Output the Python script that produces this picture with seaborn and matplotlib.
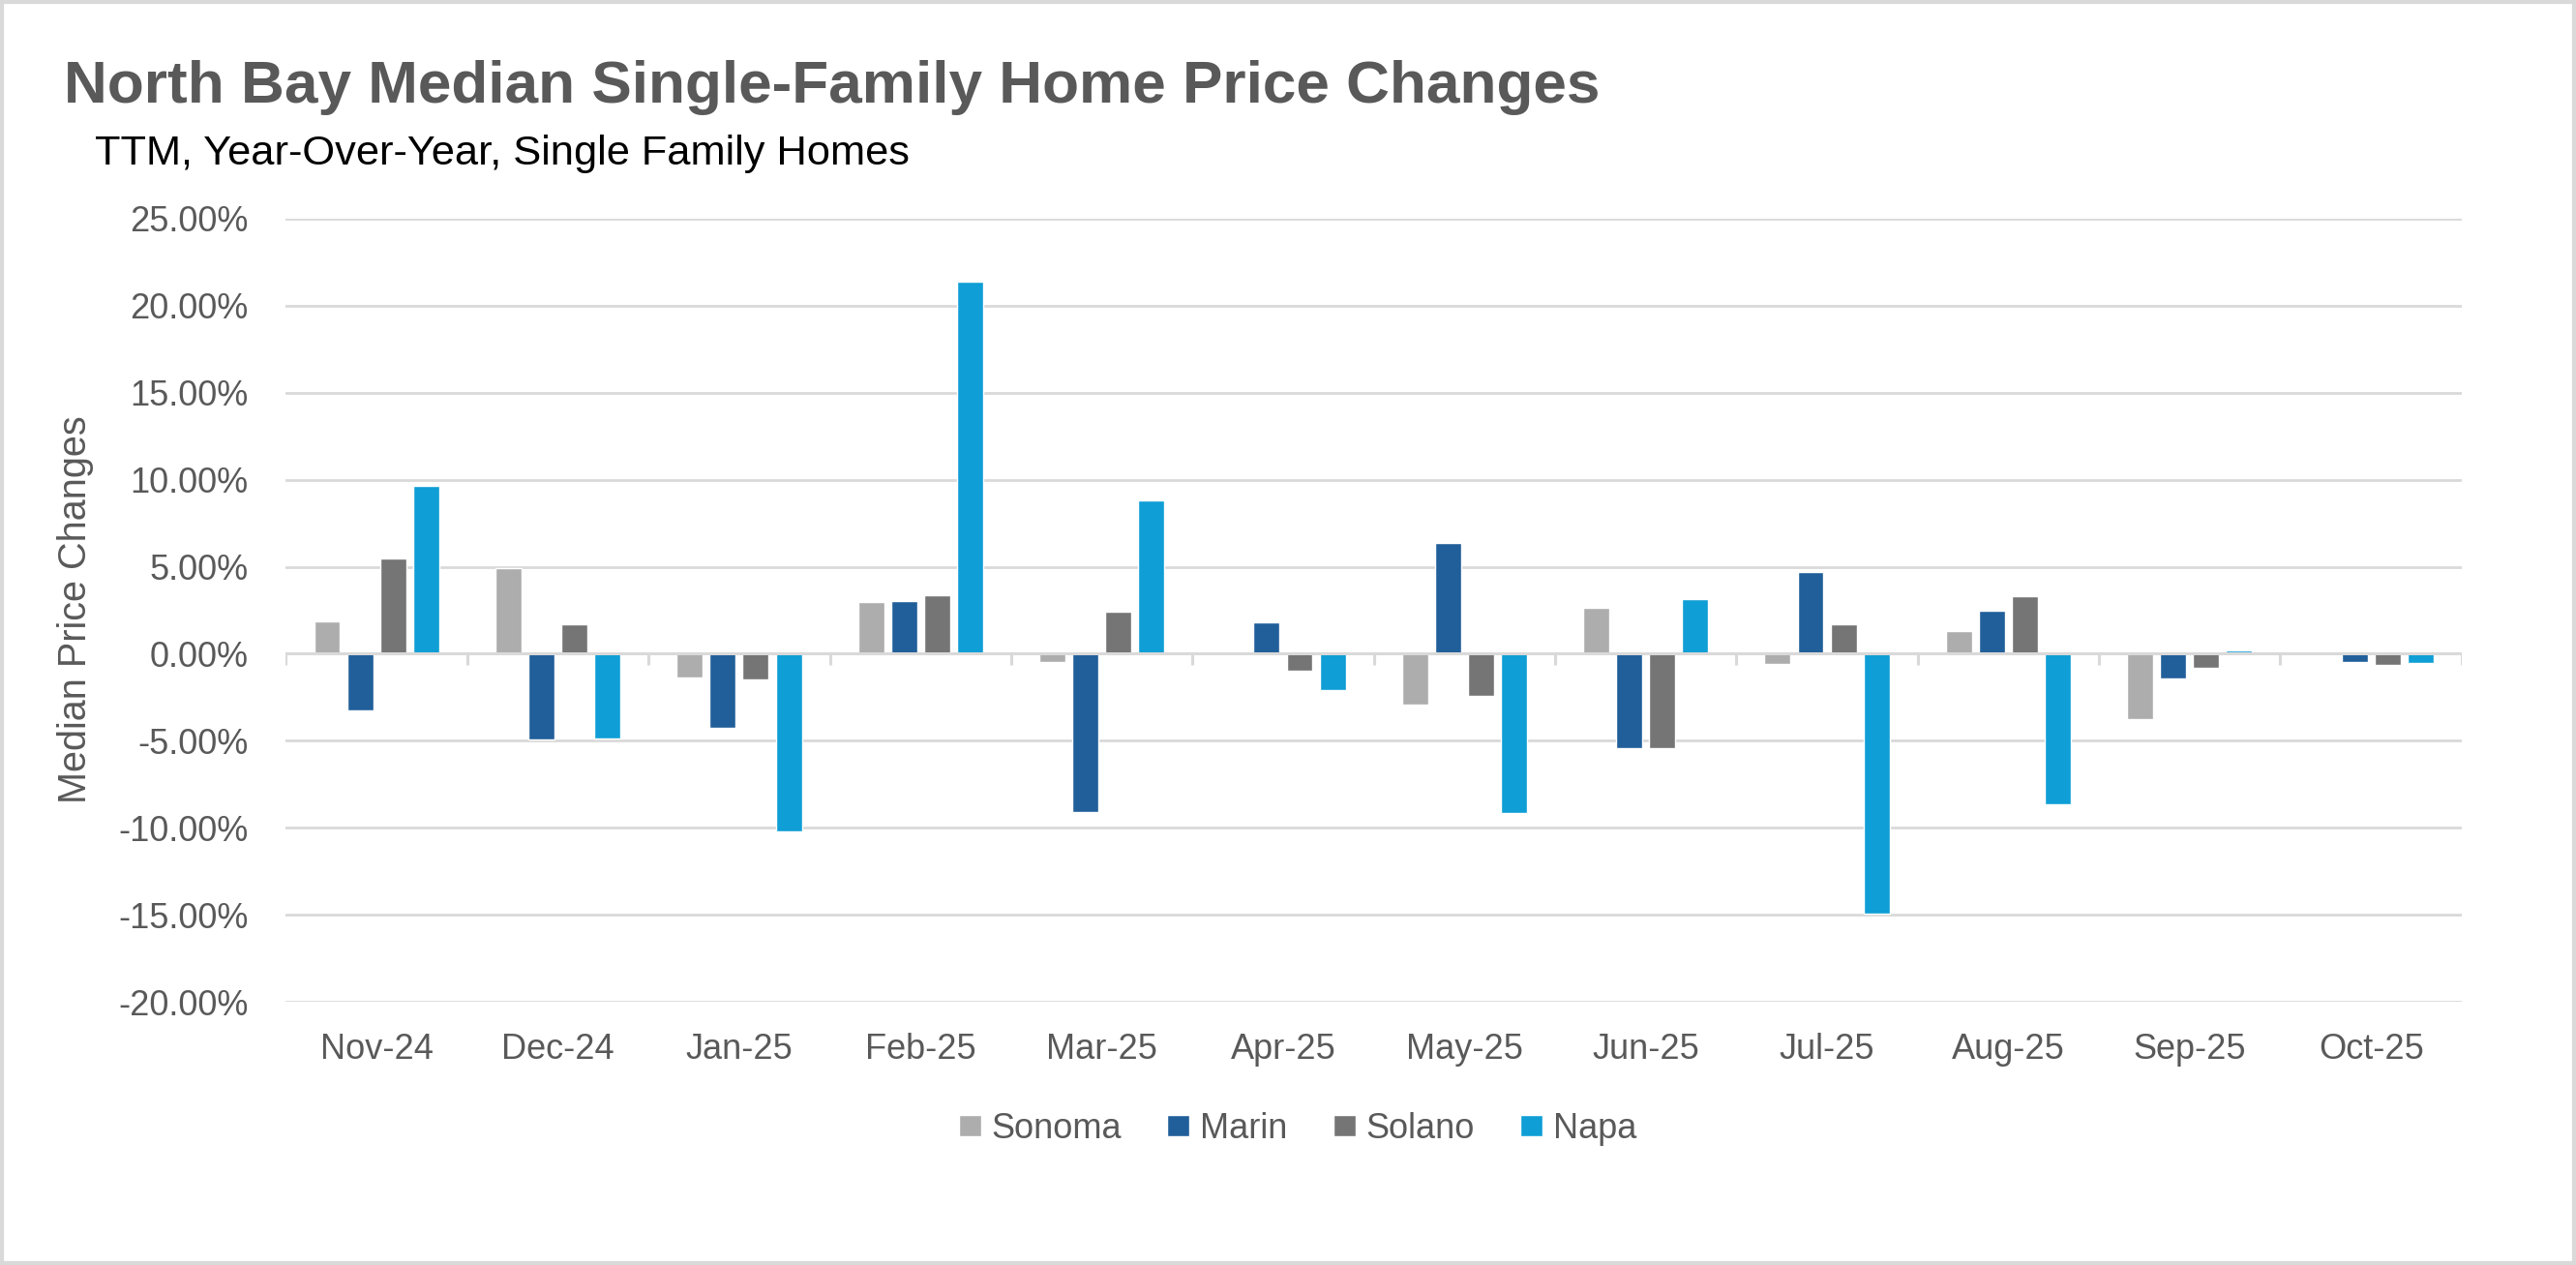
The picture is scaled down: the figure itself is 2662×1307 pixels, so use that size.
import numpy as np
import pandas as pd
import matplotlib
matplotlib.use("Agg")
import matplotlib.pyplot as plt
from matplotlib.patches import Rectangle
from matplotlib.ticker import FuncFormatter
import seaborn as sns

# data, in percent
months = ["Nov-24", "Dec-24", "Jan-25", "Feb-25", "Mar-25", "Apr-25",
          "May-25", "Jun-25", "Jul-25", "Aug-25", "Sep-25", "Oct-25"]
sonoma = [1.85, 4.92, -1.37, 2.97, -0.48, 0.0, -2.91, 2.62, -0.61, 1.31, -3.74, 0.0]
marin = [-3.26, -4.95, -4.28, 3.03, -9.07, 1.79, 6.36, -5.40, 4.70, 2.46, -1.44, -0.48]
solano = [5.46, 1.69, -1.50, 3.35, 2.40, -0.99, -2.43, -5.43, 1.69, 3.29, -0.80, -0.64]
napa = [9.65, -4.89, -10.22, 21.37, 8.82, -2.08, -9.14, 3.13, -14.95, -8.66, 0.19, -0.54]
counties = ["Sonoma", "Marin", "Solano", "Napa"]
colors = ["#ADADAD", "#215F9A", "#757575", "#0F9ED5"]
yticks = [-20, -15, -10, -5, 0, 5, 10, 15, 20, 25]

df = pd.DataFrame({"Sonoma": sonoma, "Marin": marin, "Solano": solano, "Napa": napa},
                  index=months)
long_df = df.reset_index(names="Month").melt(id_vars="Month", var_name="County",
                                             value_name="Change")

sns.set_theme(style="white")
plt.rcParams["font.family"] = ["Liberation Sans", "DejaVu Sans"]
text_col = "#595959"
grid_col = "#D9D9D9"
W, H = 2662, 1307

fig = plt.figure(figsize=(W / 100, H / 100), dpi=100)
ax = fig.add_axes([0.111, 0.2081, 0.8446, 0.619])

sns.barplot(data=long_df, x="Month", y="Change", hue="County", order=months,
            hue_order=counties, palette=colors, width=0.728, gap=0.21,
            saturation=1, errorbar=None, ax=ax)

ax.set_xlim(-0.5, len(months) - 0.5)
ax.set_ylim(-20, 25)
ax.set_yticks(yticks)
ax.yaxis.set_major_formatter(FuncFormatter(lambda v, p: f"{v:.2f}%"))
ax.set_axisbelow(True)
ax.yaxis.grid(True, color=grid_col, linewidth=2)
ax.xaxis.grid(False)
for s in ax.spines.values():
    s.set_visible(False)
ax.axhline(0, color=grid_col, linewidth=2.2, zorder=1)
ax.vlines(np.arange(-0.5, len(months)), -0.62, 0, color=grid_col, linewidth=2.2, zorder=1)

ax.tick_params(axis="y", length=0, pad=28, labelsize=26, labelcolor=text_col)
ax.tick_params(axis="x", length=0, pad=23, labelsize=26, labelcolor=text_col)
ax.set_xlabel("")
ax.set_ylabel("")

fig.text(78 / W, 1 - 630 / H, "Median Price Changes", rotation=90,
         ha="center", va="center", fontsize=28.5, color=text_col)

title = fig.text(66 / W, 1 - 106 / H, "North Bay Median Single-Family Home Price Changes",
                 fontsize=45, fontweight="bold", color=text_col, va="baseline")
subtitle = fig.text(98 / W, 1 - 170 / H, "TTM, Year-Over-Year, Single Family Homes",
                    fontsize=32.5, color="black", va="baseline")

# scale the two heading lines to the widths measured on the reference
renderer = fig.canvas.get_renderer()
for t, target in [(title, 1587), (subtitle, 842)]:
    w = t.get_window_extent(renderer).width
    t.set_fontsize(t.get_fontsize() * target / w)

handles, labels = ax.get_legend_handles_labels()
ax.get_legend().remove()
fig.legend(handles, labels, loc="center", bbox_to_anchor=(1341 / W, 1 - 1166 / H),
           ncol=4, frameon=False, fontsize=26, labelcolor=text_col,
           handlelength=0.64, handleheight=0.58, handletextpad=0.3,
           columnspacing=1.3)

fig.patches.append(Rectangle((0.0008, 0.0015), 0.9984, 0.997, transform=fig.transFigure,
                             fill=False, edgecolor=grid_col, linewidth=3))

fig.savefig("out.png", dpi=100)
